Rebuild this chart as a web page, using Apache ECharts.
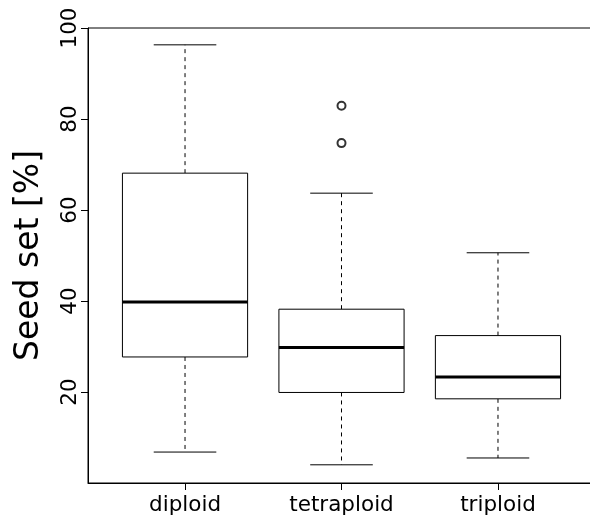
<!DOCTYPE html>
<html>
<head>
<meta charset="utf-8">
<script src="https://cdn.jsdelivr.net/npm/echarts@6/dist/echarts.min.js"></script>
<style>
  html, body { margin: 0; padding: 0; background: #fff; }
  #chart { width: 590px; height: 517px; }
</style>
</head>
<body>
<div id="chart"></div>
<script>
// Seed set per ploidy level: five-number summaries plus outliers
const categories = ['diploid', 'tetraploid', 'triploid'];
const whiskerLow  = [6.8, 4.0, 5.5];
const quartile1   = [27.7, 19.9, 18.5];
const medians     = [39.8, 29.8, 23.3];
const quartile3   = [68.1, 38.2, 32.4];
const whiskerHigh = [96.3, 63.7, 50.6];
const outlierGroup  = [2, 2];
const outlierValues = [82.9, 74.7];
const yTicks = [20, 40, 60, 80, 100];

const FONT = 'DejaVu Sans';
const BOX_HALF = 0.4;    // half box width, in category units
const CAP_HALF = 0.2;    // half staple width

const boxData = categories.map((c, i) =>
  [i + 1, whiskerLow[i], quartile1[i], medians[i], quartile3[i], whiskerHigh[i]]);
const outlierData = outlierValues.map((v, i) => [outlierGroup[i], v]);

function renderBox(params, api) {
  const x = api.value(0);
  const lo = api.coord([x, api.value(1)]);
  const q1 = api.coord([x, api.value(2)]);
  const md = api.coord([x, api.value(3)]);
  const q3 = api.coord([x, api.value(4)]);
  const hi = api.coord([x, api.value(5)]);
  const left = api.coord([x - BOX_HALF, 0])[0];
  const right = api.coord([x + BOX_HALF, 0])[0];
  const capL = api.coord([x - CAP_HALF, 0])[0];
  const capR = api.coord([x + CAP_HALF, 0])[0];
  const cx = lo[0];
  const dashed = { stroke: '#000', lineWidth: 1, lineDash: [4, 4] };
  const solid = { stroke: '#000', lineWidth: 1 };
  return {
    type: 'group',
    children: [
      { type: 'line', shape: { x1: cx, y1: q3[1], x2: cx, y2: hi[1] }, style: dashed },
      { type: 'line', shape: { x1: cx, y1: q1[1], x2: cx, y2: lo[1] }, style: dashed },
      { type: 'line', shape: { x1: capL, y1: hi[1], x2: capR, y2: hi[1] }, style: solid },
      { type: 'line', shape: { x1: capL, y1: lo[1], x2: capR, y2: lo[1] }, style: solid },
      { type: 'rect', shape: { x: left, y: q3[1], width: right - left, height: q1[1] - q3[1] },
        style: { fill: '#fff', stroke: '#000', lineWidth: 1 } },
      { type: 'line', shape: { x1: left, y1: md[1], x2: right, y2: md[1] },
        style: { stroke: '#000', lineWidth: 3 } }
    ]
  };
}

const chart = echarts.init(document.getElementById('chart'), null, { renderer: 'canvas' });
chart.setOption({
  animation: false,
  backgroundColor: '#fff',
  grid: {
    left: 88, top: 28, width: 507, height: 455,
    outerBoundsMode: 'none',
    show: true, borderColor: '#000', borderWidth: 1
  },
  xAxis: {
    type: 'value',
    min: 0.38, max: 3.62,
    splitLine: { show: false },
    axisLine: { show: true, lineStyle: { color: '#000', width: 1 } },
    axisTick: { show: true, length: 7, lineStyle: { color: '#000' }, customValues: [1, 2, 3] },
    axisLabel: {
      customValues: [1, 2, 3],
      formatter: v => categories[Math.round(v) - 1] || '',
      color: '#000', fontFamily: FONT, fontSize: 21.5, margin: 11
    }
  },
  yAxis: {
    type: 'value',
    min: 0, max: 100, interval: 20,
    splitLine: { show: false },
    axisLine: { show: true, lineStyle: { color: '#000', width: 1 } },
    axisTick: { show: true, length: 7, lineStyle: { color: '#000' }, customValues: yTicks },
    axisLabel: {
      customValues: yTicks,
      rotate: 90,
      color: '#000', fontFamily: FONT, fontSize: 21.5, margin: 7
    },
    name: 'Seed set [%]',
    nameLocation: 'middle',
    nameRotate: 90,
    nameGap: 42,
    nameTextStyle: { color: '#000', fontFamily: FONT, fontSize: 33 }
  },
  series: [
    {
      type: 'custom',
      renderItem: renderBox,
      data: boxData,
      encode: { x: 0, y: [1, 2, 3, 4, 5] },
      clip: false
    },
    {
      type: 'scatter',
      data: outlierData,
      symbol: 'emptyCircle',
      symbolSize: 8,
      itemStyle: { color: '#000', borderColor: '#000', borderWidth: 1 }
    }
  ]
});
</script>
</body>
</html>
